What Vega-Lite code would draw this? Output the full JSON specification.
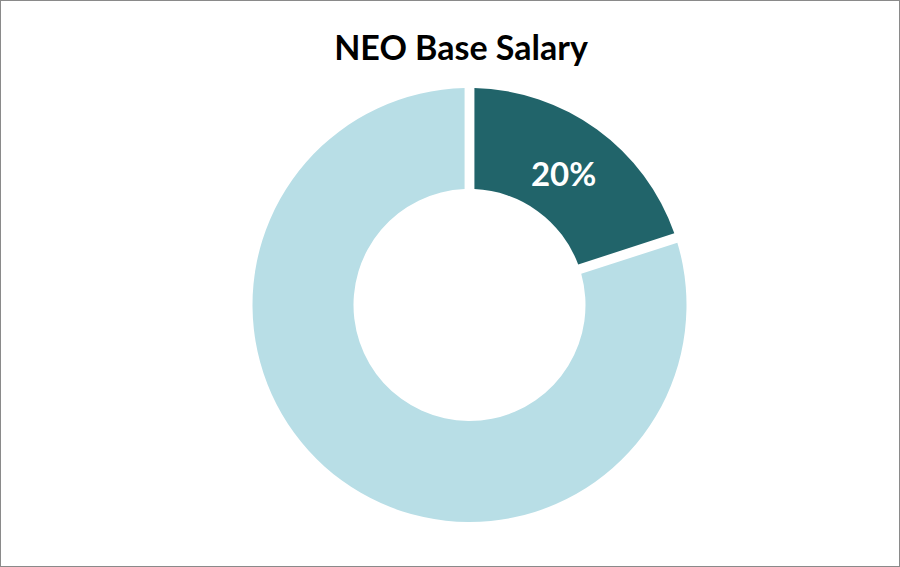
{
  "$schema": "https://vega.github.io/schema/vega-lite/v6.json",
  "width": 900,
  "height": 567,
  "autosize": {"type": "fit", "contains": "padding"},
  "padding": 0,
  "background": "white",
  "config": {"view": {"stroke": "#8a8a8a", "strokeWidth": 2}},
  "title": {"text": "NEO Base Salary", "offset": -67, "dx": 11, "fontSize": 34, "font": "Lato", "fontWeight": "bold", "color": "#000000"},
  "data": {"values": [
    {"category": "Base Salary", "share": 20},
    {"category": "Other Pay", "share": 80}
  ]},
  "encoding": {
    "theta": {"field": "share", "type": "quantitative", "stack": true},
    "x": {"value": {"expr": "width/2 + 19.5"}},
    "y": {"value": {"expr": "height/2 + 21.5"}}
  },
  "layer": [
    {
      "mark": {"type": "arc", "outerRadius": 217, "innerRadius": 116, "padAngle": 0.04},
      "encoding": {
        "color": {"field": "category", "type": "nominal", "sort": ["Base Salary", "Other Pay"], "scale": {"domain": ["Base Salary", "Other Pay"], "range": ["#21646A", "#B8DEE6"]}, "legend": null}
      }
    },
    {
      "transform": [{"filter": "datum.category === 'Base Salary'"}],
      "mark": {"type": "text", "radius": 160, "font": "Lato", "fontWeight": "bold", "fontSize": 33, "color": "white", "baseline": "middle", "align": "center"},
      "encoding": {
        "text": {"value": "20%"}
      }
    }
  ]
}
